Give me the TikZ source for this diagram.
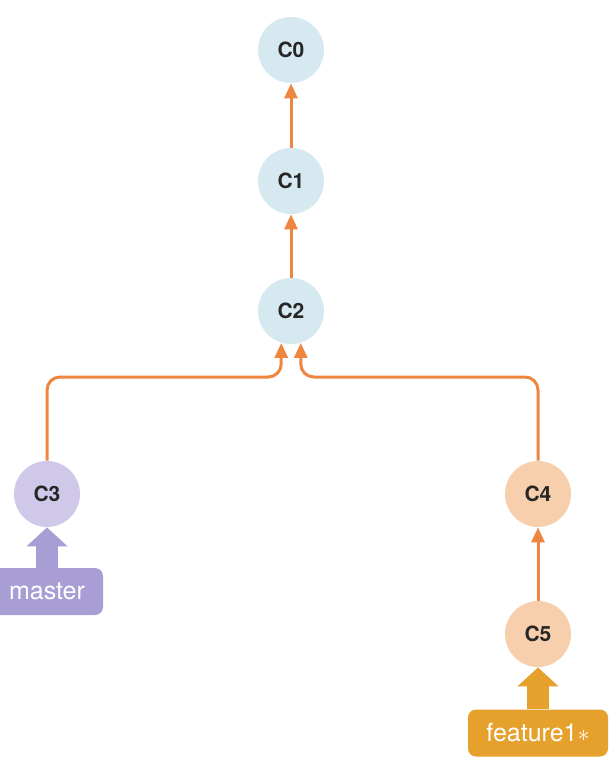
\documentclass[tikz,border=0pt]{standalone}
\usepackage{fontspec}
\setmainfont{TeX Gyre Heros}
\usetikzlibrary{arrows.meta}
\definecolor{mainblue}{HTML}{D6E9F0}
\definecolor{masterlight}{HTML}{CFC8E8}
\definecolor{masterdark}{HTML}{A99DD5}
\definecolor{featlight}{HTML}{F8CFAD}
\definecolor{featdark}{HTML}{E5A12B}
\definecolor{linkorange}{HTML}{EE8640}
\tikzset{
  commit/.style={circle, minimum size=33pt, inner sep=0pt, text=black!85, font=\fontsize{10.5}{12}\selectfont\bfseries},
  link/.style={draw=linkorange, line width=1.5pt, -{Triangle[length=7.5pt,width=6.5pt]}},
  branch/.style={rounded corners=4pt, minimum height=23.5pt, inner sep=0pt, text=white, font=\fontsize{12.5}{14}\selectfont},
  pointer/.style={line width=11pt, -{Triangle[length=9.5pt,width=20pt]}}
}
\begin{document}
\begin{tikzpicture}[x=0.5pt,y=-0.5pt]
  \useasboundingbox (0,0) rectangle (609,766);
  % commits
  \node[commit, fill=mainblue] (c0) at (291,50) {C0};
  \node[commit, fill=mainblue] (c1) at (291,181) {C1};
  \node[commit, fill=mainblue] (c2) at (291,311) {C2};
  \node[commit, fill=masterlight] (c3) at (47,494) {C3};
  \node[commit, fill=featlight] (c4) at (538,494) {C4};
  \node[commit, fill=featlight] (c5) at (538,634) {C5};
  \coordinate (bend) at (0,377);
  % parents
  \draw[link] (c1) -- (c0);
  \draw[link] (c2) -- (c1);
  \draw[link] (c5) -- (c4);
  \draw[link, rounded corners=6.5pt] (c3.north) |- (c2.-107 |- bend) -- (c2.-107);
  \draw[link, rounded corners=6.5pt] (c4.north) |- (c2.-73 |- bend) -- (c2.-73);
  % branches
  \node[branch, fill=masterdark, minimum width=56pt] (master) at (47,591.5) {master};
  \node[branch, fill=featdark, minimum width=70pt] (feature) at (538,733) {feature1$\ast$};
  \draw[pointer, draw=masterdark] (master.north) -- (c3.south);
  \draw[pointer, draw=featdark] (feature.north) -- (c5.south);
\end{tikzpicture}
\end{document}
